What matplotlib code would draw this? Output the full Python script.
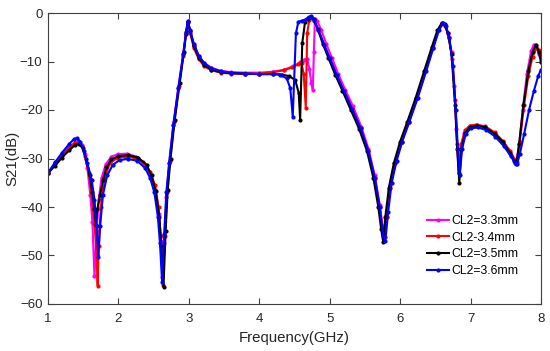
import matplotlib
matplotlib.use("Agg")
import matplotlib.pyplot as plt

plt.rcParams["font.family"] = ["Liberation Sans", "DejaVu Sans"]

# ---------------------------
# data
# ---------------------------
labels = ["CL2=3.3mm", "CL2-3.4mm", "CL2=3.5mm", "CL2=3.6mm"]

f_33 = [1.00, 1.10, 1.20, 1.30, 1.38, 1.43, 1.48, 1.52, 1.56, 1.60, 1.63, 1.66, 1.69, 1.72, 1.76,
        1.82, 1.90, 2.00, 2.12, 2.25, 2.38, 2.46, 2.52, 2.57, 2.60, 2.625, 2.65, 2.68, 2.72, 2.78,
        2.85, 2.92, 2.96, 2.985, 3.02, 3.07, 3.14, 3.22, 3.32, 3.45, 3.60, 3.80, 4.00, 4.20, 4.35,
        4.48, 4.58, 4.64, 4.68, 4.71, 4.74, 4.76, 4.775, 4.79, 4.82, 4.88, 4.95, 5.03, 5.12, 5.22,
        5.33, 5.45, 5.55, 5.64, 5.71, 5.75, 5.78, 5.81, 5.86, 5.93, 6.02, 6.12, 6.24, 6.36, 6.46,
        6.54, 6.59, 6.63, 6.68, 6.73, 6.77, 6.80, 6.83, 6.86, 6.91, 6.98, 7.08, 7.20, 7.33, 7.45,
        7.55, 7.62, 7.65, 7.69, 7.74, 7.80, 7.86, 7.90, 7.93, 7.97, 8.00]
s_33 = [-33.0, -31.0, -29.2, -27.6, -26.7, -26.5, -27.3, -29.0, -32.0, -37.5, -43.0, -54.3, -45.0,
        -38.5, -34.0, -31.2, -29.6, -29.1, -29.0, -29.6, -31.3, -33.5, -36.5, -41.5, -47.0, -54.5,
        -47.5, -38.0, -31.0, -23.0, -15.5, -8.5, -4.0, -1.7, -3.8, -6.5, -8.9, -10.3, -11.3, -11.9,
        -12.2, -12.3, -12.3, -12.1, -11.7, -11.0, -10.2, -9.6, -9.4, -11.5, -14.5, -15.9, -8.0, -1.3,
        -1.6, -3.5, -6.3, -9.2, -12.5, -15.8, -19.2, -23.5, -28.0, -33.5, -39.5, -44.0, -46.2, -42.0,
        -36.0, -31.0, -26.5, -22.5, -17.5, -12.0, -7.2, -3.6, -2.2, -2.4, -4.2, -8.0, -15.0, -24.0,
        -33.0, -27.5, -24.8, -23.5, -23.1, -23.5, -24.8, -26.5, -28.5, -30.2, -30.8, -27.0, -20.0,
        -12.5, -7.8, -6.5, -6.8, -8.5, -10.0]

f_34 = [1.00, 1.10, 1.20, 1.30, 1.38, 1.43, 1.48, 1.53, 1.58, 1.62, 1.66, 1.69, 1.705, 1.72, 1.75,
        1.80, 1.88, 1.98, 2.10, 2.22, 2.35, 2.45, 2.52, 2.57, 2.60, 2.63, 2.66, 2.69, 2.73, 2.79,
        2.86, 2.92, 2.96, 2.985, 3.02, 3.07, 3.14, 3.22, 3.32, 3.45, 3.60, 3.80, 4.00, 4.20, 4.35,
        4.47, 4.55, 4.60, 4.63, 4.66, 4.68, 4.71, 4.745, 4.78, 4.84, 4.92, 5.00, 5.10, 5.20, 5.32,
        5.44, 5.55, 5.64, 5.71, 5.75, 5.78, 5.81, 5.86, 5.93, 6.02, 6.12, 6.24, 6.36, 6.46, 6.54,
        6.60, 6.64, 6.69, 6.74, 6.78, 6.81, 6.835, 6.87, 6.92, 6.99, 7.09, 7.21, 7.34, 7.46, 7.56,
        7.63, 7.66, 7.70, 7.76, 7.82, 7.88, 7.93, 7.97, 8.00]
s_34 = [-33.0, -31.0, -29.3, -27.8, -26.9, -26.7, -27.4, -29.5, -33.0, -37.5, -43.5, -50.0, -56.2,
        -48.0, -40.0, -34.0, -31.0, -29.9, -29.6, -29.8, -30.8, -32.8, -35.5, -40.0, -46.0, -56.0,
        -46.0, -37.0, -30.5, -22.5, -15.0, -8.8, -4.2, -1.9, -4.2, -7.2, -9.5, -11.0, -11.8, -12.3,
        -12.5, -12.6, -12.5, -12.2, -11.8, -11.2, -10.6, -10.4, -12.5, -19.5, -4.2, -1.4, -1.0, -1.6,
        -3.5, -6.5, -9.3, -12.8, -16.0, -19.8, -23.8, -28.5, -34.0, -40.0, -44.5, -46.2, -42.0, -36.0,
        -31.0, -26.5, -22.5, -17.5, -12.0, -7.2, -3.6, -2.1, -2.6, -5.0, -9.5, -18.0, -27.0, -33.0,
        -27.0, -24.2, -23.2, -23.0, -23.4, -24.6, -26.4, -28.4, -30.3, -30.7, -26.5, -19.0, -13.0,
        -9.0, -7.3, -7.6, -8.3]

f_35 = [1.00, 1.10, 1.20, 1.30, 1.38, 1.44, 1.49, 1.54, 1.59, 1.63, 1.66, 1.68, 1.70, 1.74, 1.78,
        1.83, 1.90, 2.00, 2.14, 2.28, 2.40, 2.47, 2.53, 2.58, 2.61, 2.64, 2.67, 2.70, 2.74, 2.80,
        2.87, 2.93, 2.96, 2.985, 3.02, 3.07, 3.14, 3.22, 3.32, 3.45, 3.60, 3.80, 4.00, 4.20, 4.32,
        4.42, 4.51, 4.56, 4.58, 4.61, 4.65, 4.69, 4.73, 4.77, 4.83, 4.90, 4.98, 5.08, 5.18, 5.30,
        5.42, 5.53, 5.62, 5.69, 5.73, 5.76, 5.79, 5.84, 5.91, 6.00, 6.10, 6.22, 6.34, 6.45, 6.53,
        6.59, 6.63, 6.68, 6.73, 6.78, 6.81, 6.84, 6.87, 6.92, 6.99, 7.09, 7.21, 7.34, 7.46, 7.56,
        7.62, 7.65, 7.69, 7.75, 7.82, 7.88, 7.93, 7.97, 8.00]
s_35 = [-33.0, -31.5, -29.8, -28.3, -27.3, -27.0, -27.8, -30.0, -33.5, -37.0, -40.5, -43.8, -40.5,
        -37.5, -34.5, -31.8, -30.2, -29.5, -29.3, -29.8, -31.3, -33.5, -36.8, -42.0, -48.0, -56.5,
        -45.0, -36.5, -30.0, -22.0, -14.5, -8.0, -4.3, -1.8, -3.8, -6.8, -9.2, -10.8, -11.7, -12.2,
        -12.4, -12.5, -12.6, -12.6, -12.7, -13.0, -13.8, -16.5, -22.0, -6.2, -1.8, -1.3, -0.9, -1.3,
        -3.3, -6.3, -9.2, -12.8, -16.0, -20.0, -24.0, -28.5, -34.0, -40.0, -44.5, -47.2, -42.0, -36.0,
        -31.0, -26.5, -22.5, -17.5, -12.0, -7.0, -3.5, -2.1, -2.3, -4.2, -8.5, -19.0, -28.0, -35.0,
        -28.0, -24.8, -23.5, -23.2, -23.6, -24.9, -26.6, -28.8, -30.6, -31.1, -27.0, -19.0, -12.0,
        -8.0, -6.5, -8.0, -10.0]

f_36 = [1.00, 1.10, 1.20, 1.30, 1.37, 1.41, 1.46, 1.51, 1.56, 1.62, 1.66, 1.69, 1.715, 1.74, 1.78,
        1.84, 1.92, 2.02, 2.14, 2.27, 2.38, 2.45, 2.51, 2.56, 2.59, 2.62, 2.65, 2.68, 2.72, 2.78,
        2.85, 2.92, 2.96, 2.985, 3.02, 3.07, 3.14, 3.22, 3.32, 3.45, 3.60, 3.80, 4.00, 4.20, 4.30,
        4.39, 4.44, 4.475, 4.52, 4.555, 4.60, 4.65, 4.70, 4.74, 4.78, 4.84, 4.92, 5.00, 5.10, 5.20,
        5.32, 5.44, 5.55, 5.64, 5.71, 5.76, 5.79, 5.83, 5.88, 5.95, 6.03, 6.13, 6.25, 6.37, 6.47,
        6.55, 6.61, 6.65, 6.70, 6.75, 6.79, 6.82, 6.845, 6.88, 6.93, 7.00, 7.10, 7.22, 7.35, 7.47,
        7.57, 7.63, 7.66, 7.70, 7.76, 7.83, 7.90, 7.96, 8.00]
s_36 = [-33.0, -30.8, -28.8, -27.0, -26.0, -25.8, -26.5, -28.5, -31.0, -34.4, -38.5, -44.0, -50.3,
        -44.0, -37.5, -33.5, -31.3, -30.3, -30.1, -30.5, -32.0, -34.0, -37.0, -42.0, -47.5, -55.5,
        -45.5, -37.0, -31.0, -23.0, -15.5, -8.5, -4.0, -1.7, -3.6, -6.3, -8.8, -10.4, -11.4, -12.0,
        -12.3, -12.5, -12.6, -12.6, -12.7, -13.5, -15.5, -21.4, -4.2, -1.8, -1.6, -1.4, -0.8, -0.7,
        -1.5, -3.5, -6.5, -9.3, -12.8, -16.0, -19.8, -23.8, -28.5, -34.0, -40.0, -46.0, -47.0, -41.0,
        -35.0, -30.5, -26.5, -22.5, -17.5, -12.0, -7.3, -3.6, -2.0, -2.6, -5.2, -11.0, -20.0, -28.0,
        -33.5, -28.0, -25.0, -23.8, -23.6, -24.1, -25.5, -27.4, -29.5, -30.9, -31.2, -29.0, -25.0,
        -20.0, -16.0, -13.0, -11.7]

freqs = [f_33, f_34, f_35, f_36]
s21s = [s_33, s_34, s_35, s_36]
colors = ["#ff00ff", "#ff0000", "#000000", "#0000ff"]

x_ticks = [1, 2, 3, 4, 5, 6, 7, 8]
y_ticks = [-60, -50, -40, -30, -20, -10, 0]

# ---------------------------
# figure
# ---------------------------
fig = plt.figure(figsize=(5.5, 3.51), dpi=100)
ax = fig.add_axes([48 / 550, 1 - 304 / 351, 493 / 550, 291 / 351])

for f, s, c, lab in zip(freqs, s21s, colors, labels):
    ax.plot(f, s, color=c, lw=1.5, marker=".", ms=4, label=lab)

ax.set_xlim(1, 8)
ax.set_ylim(-60, 0)
ax.set_xticks(x_ticks)
ax.set_yticks(y_ticks)

axis_col = "#404040"
for sp in ax.spines.values():
    sp.set_color(axis_col)
    sp.set_linewidth(0.8)
ax.tick_params(direction="in", top=True, right=True, length=4, width=0.8,
               color=axis_col, labelcolor="#262626", labelsize=9.5, pad=4)
ax.tick_params(axis="x", pad=6.5)

ax.set_xlabel("Frequency(GHz)", fontsize=10.8, color="#262626", labelpad=4)
ax.set_ylabel("S21(dB)", fontsize=10.8, color="#262626", labelpad=0)

ax.legend(loc="upper left", bbox_to_anchor=(427 / 550, 1 - 215 / 351),
          bbox_transform=fig.transFigure, frameon=False, fontsize=8.8,
          handlelength=1.8, handletextpad=0.2, labelspacing=0.38,
          borderpad=0, borderaxespad=0)

fig.savefig("out.png", dpi=100)
